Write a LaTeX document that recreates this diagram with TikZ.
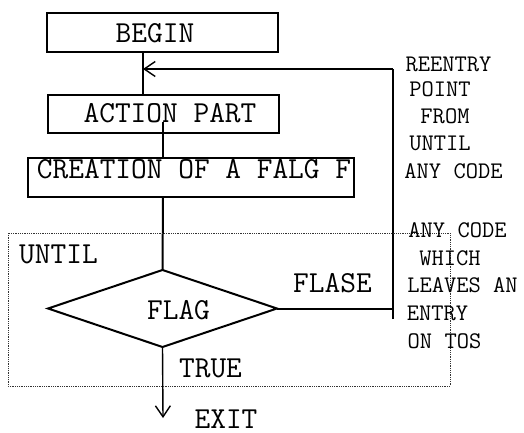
\documentclass[tikz,border=0pt]{standalone}
\usepackage{fontspec}
\usetikzlibrary{shapes.geometric,arrows.meta}
\begin{document}
\begin{tikzpicture}[x=1pt,y=-1pt,
  big/.style={font=\ttfamily\fontsize{30.5}{33}\selectfont,inner sep=0pt,anchor=base},
  small/.style={font=\ttfamily\fontsize{23.8}{26}\selectfont,inner sep=0pt,anchor=base},
  box/.style={draw,line width=1.4pt,inner sep=0pt,outer sep=0pt,rectangle},
  flow/.style={line width=2pt},
  tip/.style={-{Straight Barb[length=11pt,width=15pt,line width=1.4pt]}}
]
\useasboundingbox (0,0) rectangle (524,433);

% boxes
\node[box,minimum width=231pt,minimum height=39pt] (begin) at (162.5,32.5) {};
\node[box,line width=2.2pt,minimum width=231pt,minimum height=38pt] (action) at (163.5,114) {};
\node[box,line width=1.3pt,minimum width=326pt,minimum height=39pt] (create) at (191,177.5) {};
\node[draw,diamond,line width=2pt,inner sep=0pt,outer sep=0pt,
      minimum width=229pt,minimum height=77pt] (flag) at (162.5,308.5) {};

% box texts
\node[big] (tbegin) at (155,43) {BEGIN};
\node[big] (taction) at (170,122.7) {ACTION PART};
\node[big] (tcreate) at (194,178) {CREATION OF A FALG F};
\node[big] (tflag) at (178.5,319) {FLAG};
\node[big] (tflase) at (332.5,292) {FLASE};
\node[big] (tuntil) at (58.5,263) {UNTIL};
\node[big] (ttrue) at (210.5,377) {TRUE};
\node[big] (texit) at (226,428.5) {EXIT};

% helper points
\coordinate (spineA) at (143,0);
\coordinate (spineB) at (163,0);
\coordinate (actmid) at (163,122);
\coordinate (rt) at (392.5,69);
\coordinate (rb) at (392.5,319);
\coordinate (exitpt) at (163,418);

% main flow
\draw[flow] (begin.south -| spineA) -- (action.north -| spineA);
\draw[flow] (actmid) -- (create.north -| spineB);
\draw[flow] (create.south -| spineB) -- (flag.north);
\draw[flow] (flag.east) -- (flag.east -| rb);
\draw[flow] (rb) -- (rt);
\draw[line width=1.4pt,tip] (rt) -- (rt -| spineA);
\draw[line width=1.4pt,tip] (flag.south) -- (exitpt);

% dotted frame of the UNTIL construct
\draw[line width=0.8pt,dash pattern=on 0.9pt off 0.9pt,black!80] (8,233) rectangle (450,386);

% side notes
\node[small] (n1) at (448.5,72) {REENTRY};
\node[small] (n2) at (440,97) {POINT};
\node[small] (n3) at (445,123) {FROM};
\node[small] (n4) at (440,150) {UNTIL};
\node[small] (n5) at (453.5,178) {ANY CODE};
\node[small] (n6) at (457.5,237) {ANY CODE};
\node[small] (n7) at (450,265) {WHICH};
\node[small] (n8) at (462.5,292) {LEAVES AN};
\node[small] (n9) at (437.5,320) {ENTRY};
\node[small] (n10) at (444.5,348) {ON TOS};
\end{tikzpicture}
\end{document}
